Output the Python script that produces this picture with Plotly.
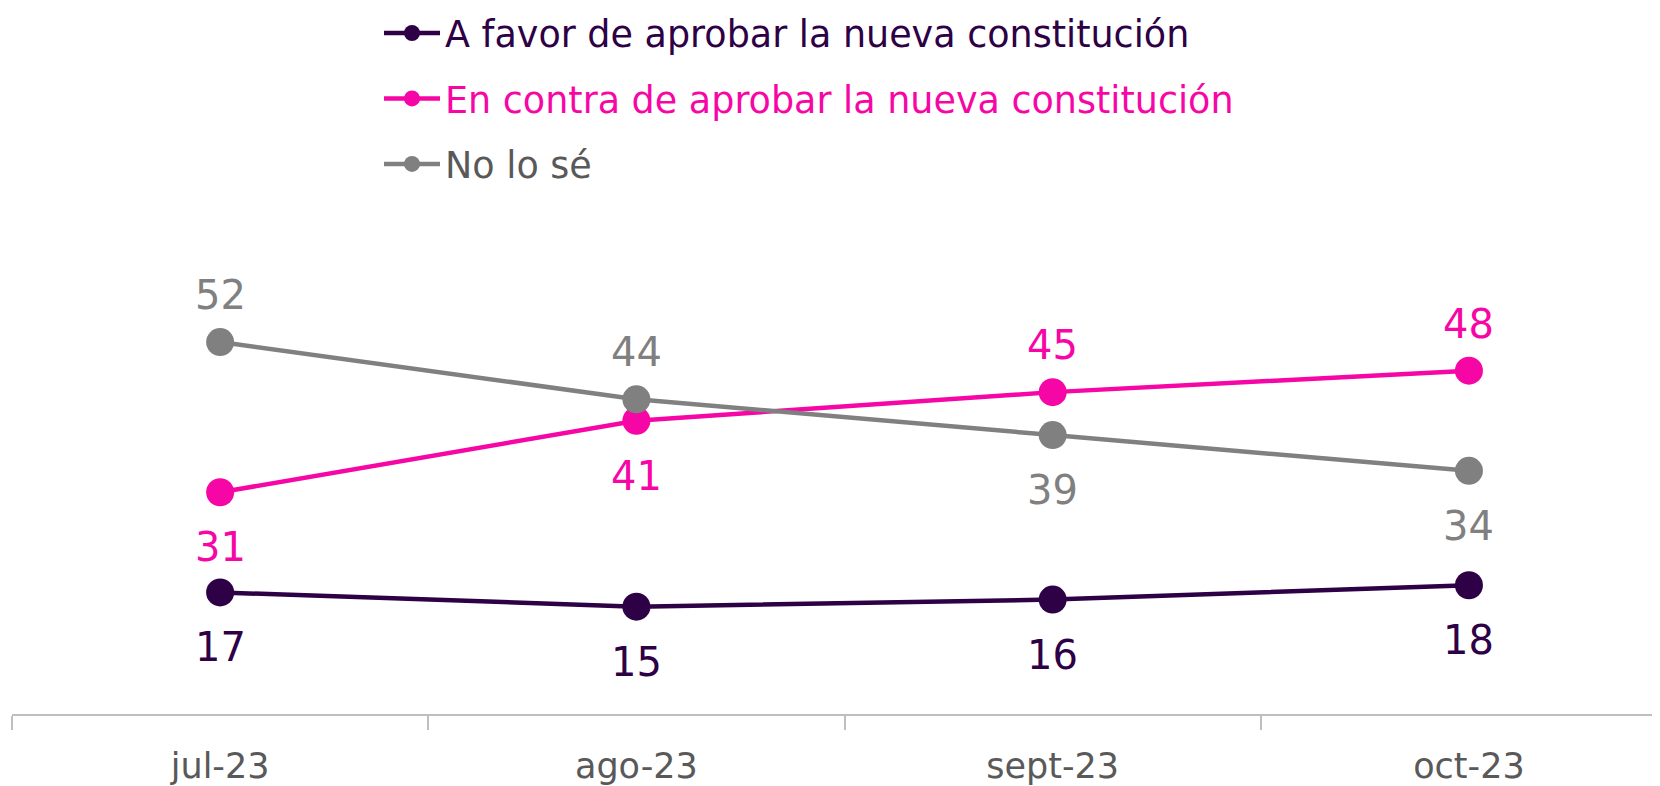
import plotly.graph_objects as go

categories = ["jul-23", "ago-23", "sept-23", "oct-23"]
a_favor = [17, 15, 16, 18]
en_contra = [31, 41, 45, 48]
no_lo_se = [52, 44, 39, 34]

names = ["A favor de aprobar la nueva constitución",
         "En contra de aprobar la nueva constitución",
         "No lo sé"]
colors = ["#2E0045", "#F706A6", "#808080"]
legend_text_colors = ["#2E0045", "#F706A6", "#595959"]
# label placement: +1 above, -1 below
placements = [[-1, -1, -1, -1], [-1, -1, 1, 1], [1, 1, -1, -1]]
series = [a_favor, en_contra, no_lo_se]

FONT = "DejaVu Sans"
fig = go.Figure()
for i, (vals, name, col) in enumerate(zip(series, names, colors)):
    fig.add_trace(go.Scatter(
        x=categories, y=vals, mode="lines+markers",
        name=f"<span style='color:{legend_text_colors[i]}'>{name}</span>",
        legendgroup=f"g{i}",
        line=dict(color=col, width=4.5),
        marker=dict(color=col, size=28),
    ))
    for c, v, p in zip(categories, vals, placements[i]):
        fig.add_annotation(x=c, y=v, text=str(v), showarrow=False,
                           yshift=47 if p > 0 else -55,
                           font=dict(family=FONT, size=40, color=col))

fig.update_layout(
    width=1652, height=778,
    paper_bgcolor="white", plot_bgcolor="white",
    margin=dict(l=4, r=0, t=191, b=72, autoexpand=False),
    showlegend=True,
    legend=dict(x=371 / 1652, y=1.381, xref="container", yref="paper",
                xanchor="left", yanchor="top",
                font=dict(family=FONT, size=36.5),
                tracegroupgap=15, itemwidth=56,
                bgcolor="rgba(0,0,0,0)"),
    xaxis=dict(type="category", range=[-0.5, 3.459], automargin=False,
               showline=True, linecolor="#BFBFBF", linewidth=2,
               ticks="outside", tickson="boundaries", ticklen=14,
               tickcolor="#BFBFBF", tickwidth=1.5,
               showgrid=False, zeroline=False, ticklabelstandoff=20,
               tickfont=dict(family=FONT, size=35, color="#595959")),
    yaxis=dict(range=[0, 72], visible=False, showgrid=False, zeroline=False,
               automargin=False),
)
fig.write_html("out.html")
